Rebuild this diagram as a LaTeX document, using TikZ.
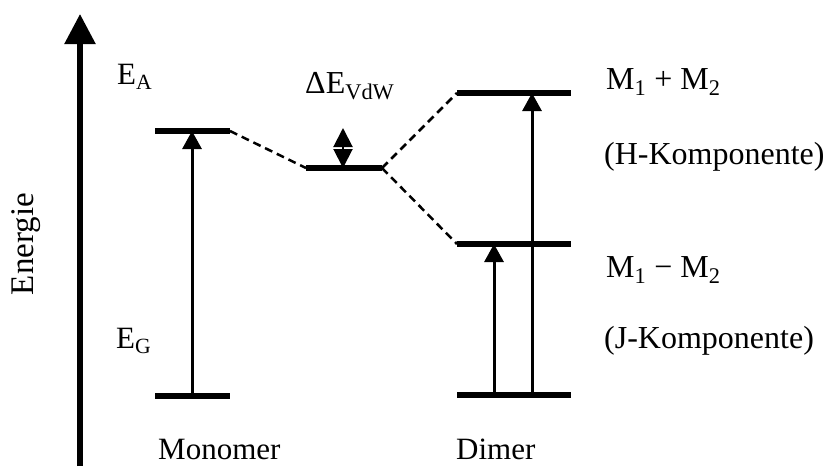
\documentclass[tikz,border=0pt]{standalone}
\usepackage{fontspec}
\setmainfont{Liberation Serif}
\usetikzlibrary{arrows.meta}
\tikzset{
  level/.style={line width=5.5pt},
  trans/.style={line width=3pt,-{Triangle[length=18pt,width=19pt]}},
  dashlink/.style={line width=2.5pt,dash pattern=on 8pt off 5pt},
  lbl/.style={anchor=base west,inner sep=0pt,font=\fontsize{31}{37}\selectfont},
  rlbl/.style={lbl,font=\fontsize{32}{38}\selectfont},
}
\begin{document}
\begin{tikzpicture}[x=1pt,y=-1pt]
\useasboundingbox (0,0) rectangle (830,466);
% axis
\coordinate (axB) at (80,466);
\coordinate (axT) at (80,14);
\draw[line width=5.5pt,-{Triangle[length=30pt,width=30pt]}] (axB) -- (axT);
\node[lbl,rotate=90,anchor=base,font=\fontsize{33}{39}\selectfont] (energie) at (33,244) {Energie};
% monomer levels
\coordinate (mA1) at (155,131); \coordinate (mA2) at (230,131);
\coordinate (mG1) at (155,396); \coordinate (mG2) at (230,396);
\draw[level] (mA1) -- (mA2);
\draw[level] (mG1) -- (mG2);
\coordinate (mT1) at (192,396); \coordinate (mT2) at (192,131);
\draw[trans] (mT1) -- (mT2);
% middle level
\coordinate (v1) at (306,168); \coordinate (v2) at (382,168);
\draw[level] (v1) -- (v2);
\coordinate (dvB) at (343,168); \coordinate (dvT) at (343,128);
\draw[line width=2pt,{Triangle[length=19pt,width=19pt]}-{Triangle[length=19pt,width=19pt]}] (dvB) -- (dvT);
% dimer levels
\coordinate (dH1) at (457,93);  \coordinate (dH2) at (571,93);
\coordinate (dJ1) at (457,244); \coordinate (dJ2) at (571,244);
\coordinate (dG1) at (457,395); \coordinate (dG2) at (571,395);
\draw[level] (dH1) -- (dH2);
\draw[level] (dJ1) -- (dJ2);
\draw[level] (dG1) -- (dG2);
\coordinate (tH1) at (532,395); \coordinate (tH2) at (532,93);
\coordinate (tJ1) at (494,395); \coordinate (tJ2) at (494,244);
\draw[trans] (tH1) -- (tH2);
\draw[trans] (tJ1) -- (tJ2);
% dashed links
\draw[dashlink] (mA2) -- (v1);
\draw[dashlink] (v2) -- (dH1);
\draw[dashlink] (v2) -- (dJ1);
% labels
\node[lbl] (EA) at (117,84) {E\textsubscript{A}};
\node[lbl] (EG) at (116,348) {E\textsubscript{G}};
\node[rlbl] (dE) at (305,93) {ΔE\textsubscript{VdW}};
\node[rlbl] (Mp) at (606,89) {M\textsubscript{1} + M\textsubscript{2}};
\node[rlbl] (Hk) at (604,164) {(H-Komponente)};
\node[rlbl] (Mm) at (606,277) {M\textsubscript{1} − M\textsubscript{2}};
\node[rlbl] (Jk) at (604,348) {(J-Komponente)};
\node[lbl] (mono) at (158,459) {Monomer};
\node[lbl] (dim) at (456,459) {Dimer};
\end{tikzpicture}
\end{document}
